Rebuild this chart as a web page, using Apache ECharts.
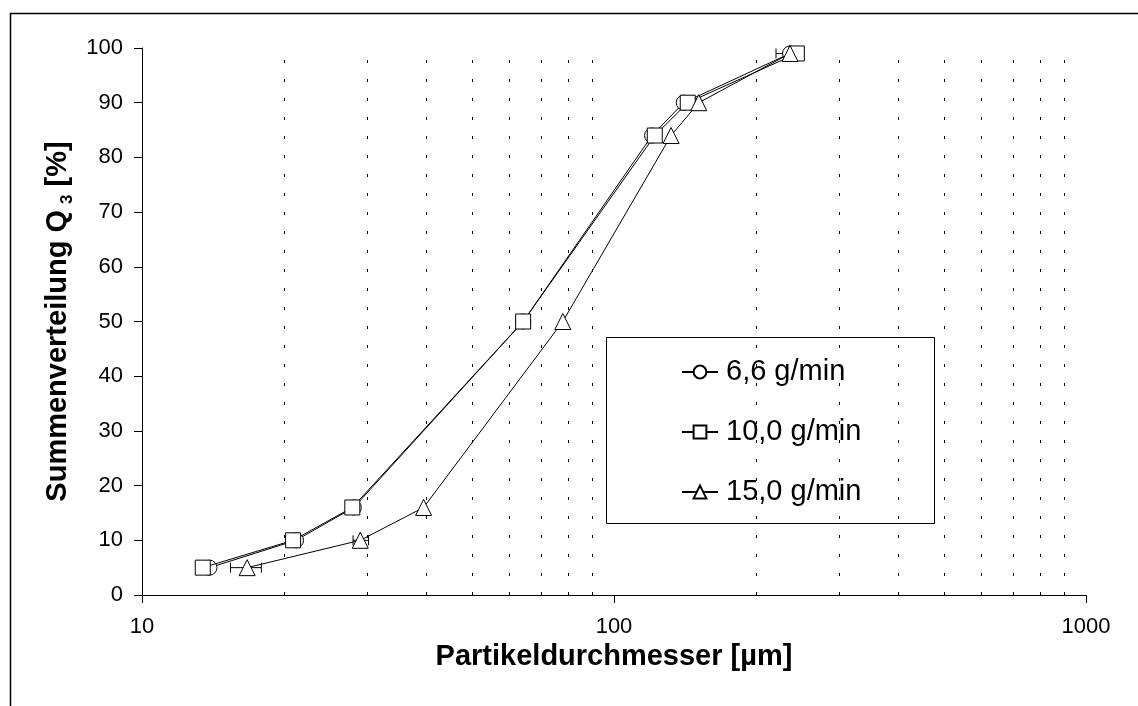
<!DOCTYPE html>
<html>
<head>
<meta charset="utf-8">
<script src="https://cdn.jsdelivr.net/npm/echarts@6/dist/echarts.min.js"></script>
<style>
html,body{margin:0;padding:0;background:#fff;}
#chart{width:1138px;height:706px;}
</style>
</head>
<body>
<div id="chart"></div>
<script>
// Data
var seriesNames = ['6,6 g/min', '10,0 g/min', '15,0 g/min'];
var yValues = [5, 10, 16, 50, 84, 90, 99];
var x66 = [13.9, 21.2, 28.1, 64.2, 120.4, 140.5, 236];
var x100 = [13.45, 20.9, 27.9, 64.2, 122.0, 143.3, 244];
var x150 = [16.7, 29.0, 39.5, 77.9, 132.1, 151.2, 236];
// horizontal error bars: [x, y, xLow, xHigh]
var errBars = [[16.7, 5, 15.4, 17.9], [29.0, 10, 28.0, 30.2], [236, 99, 220.4, 252]];
var gridValues = [20, 30, 40, 50, 60, 70, 80, 90, 200, 300, 400, 500, 600, 700, 800, 900];
var xTicks = [10, 100, 1000];
var yTicks = [0, 10, 20, 30, 40, 50, 60, 70, 80, 90, 100];

function pairs(xs, ys) { return xs.map(function (x, i) { return [x, ys[i]]; }); }

var FONT = '"Liberation Sans", Arial, sans-serif';
var chart = echarts.init(document.getElementById('chart'), null, {renderer: 'canvas'});

var symbols = ['circle', 'rect', 'triangle'];
var xsAll = [x66, x100, x150];

var series = seriesNames.map(function (name, i) {
  return {
    name: name,
    type: 'line',
    data: pairs(xsAll[i], yValues),
    symbol: symbols[i],
    symbolSize: i === 2 ? 16 : 15,
    showAllSymbol: true,
    z: 3 + i,
    lineStyle: {color: '#000', width: 1},
    itemStyle: {color: '#fff', borderColor: '#000', borderWidth: 1},
    emphasis: {disabled: true},
    animation: false
  };
});

series.push({
  type: 'custom',
  name: 'err',
  z: 2,
  data: errBars,
  renderItem: function (params, api) {
    var y = api.value(1);
    var p1 = api.coord([api.value(2), y]);
    var p2 = api.coord([api.value(3), y]);
    var h = 5;
    var st = {stroke: '#000', lineWidth: 1};
    return {
      type: 'group',
      children: [
        {type: 'line', shape: {x1: p1[0], y1: p1[1], x2: p2[0], y2: p2[1]}, style: st},
        {type: 'line', shape: {x1: p1[0], y1: p1[1] - h, x2: p1[0], y2: p1[1] + h}, style: st},
        {type: 'line', shape: {x1: p2[0], y1: p2[1] - h, x2: p2[0], y2: p2[1] + h}, style: st}
      ]
    };
  },
  animation: false,
  silent: true
});

// dotted vertical gridlines
series.push({
  type: 'line',
  name: 'grid',
  data: [],
  z: 1,
  markLine: {
    silent: true,
    symbol: 'none',
    label: {show: false},
    animation: false,
    lineStyle: {color: '#000', width: 1, type: [3, 16]},
    data: gridValues.map(function (v) { return {xAxis: v}; })
  }
});

chart.setOption({
  animation: false,
  backgroundColor: '#fff',
  textStyle: {fontFamily: FONT},
  grid: {left: 142, right: 52, top: 48, bottom: 111, containLabel: false},
  xAxis: {
    type: 'log',
    logBase: 10,
    min: 10,
    max: 1000,
    name: 'Partikeldurchmesser [µm]',
    nameLocation: 'middle',
    nameGap: 40,
    nameTextStyle: {fontFamily: FONT, fontSize: 29, fontWeight: 'bold', color: '#000'},
    axisLine: {show: true, lineStyle: {color: '#000', width: 1}},
    axisTick: {show: true, inside: false, length: 8, lineStyle: {color: '#000'}},
    axisLabel: {fontFamily: FONT, fontSize: 22, color: '#000', margin: 21,
      formatter: function (v) { return xTicks.indexOf(Math.round(v)) >= 0 ? String(Math.round(v)) : ''; }},
    splitLine: {show: false},
    minorTick: {show: false},
    minorSplitLine: {show: false}
  },
  yAxis: {
    type: 'value',
    min: 0,
    max: 100,
    interval: 10,
    name: '{a|Summenverteilung Q}{s|3}{a| [%]}',
    nameLocation: 'middle',
    nameRotate: 90,
    nameGap: 63,
    nameTextStyle: {
      color: '#000',
      rich: {
        a: {fontFamily: FONT, fontSize: 29, fontWeight: 'bold', color: '#000', lineHeight: 35, verticalAlign: 'middle'},
        s: {fontFamily: FONT, fontSize: 17, fontWeight: 'bold', color: '#000', lineHeight: 35, verticalAlign: 'bottom', padding: [0, 0, 0, 6]}
      }
    },
    axisLine: {show: true, lineStyle: {color: '#000', width: 1}},
    axisTick: {show: true, inside: false, length: 8, lineStyle: {color: '#000'}},
    axisLabel: {fontFamily: FONT, fontSize: 22, color: '#000', margin: 19,
      formatter: function (v) { return yTicks.indexOf(v) >= 0 ? String(v) : ''; }},
    splitLine: {show: false}
  },
  legend: {
    show: true,
    data: seriesNames,
    orient: 'vertical',
    left: 681,
    top: 357,
    itemGap: 30,
    itemWidth: 36,
    itemHeight: 16,
    selectedMode: false,
    textStyle: {fontFamily: FONT, fontSize: 29, color: '#000', lineHeight: 30, padding: [0, 0, 0, 3]},
    backgroundColor: 'transparent',
    borderWidth: 0,
    padding: 0
  },
  graphic: [
    {type: 'rect', left: 8, top: 11, shape: {width: 1200, height: 800},
      style: {fill: 'none', stroke: '#000', lineWidth: 1.5}, silent: true, z: 100},
    {type: 'rect', left: 606, top: 337, shape: {width: 328, height: 186},
      style: {fill: '#fff', stroke: '#000', lineWidth: 1}, silent: true, z: -1}
  ],
  series: series
});
</script>
</body>
</html>
